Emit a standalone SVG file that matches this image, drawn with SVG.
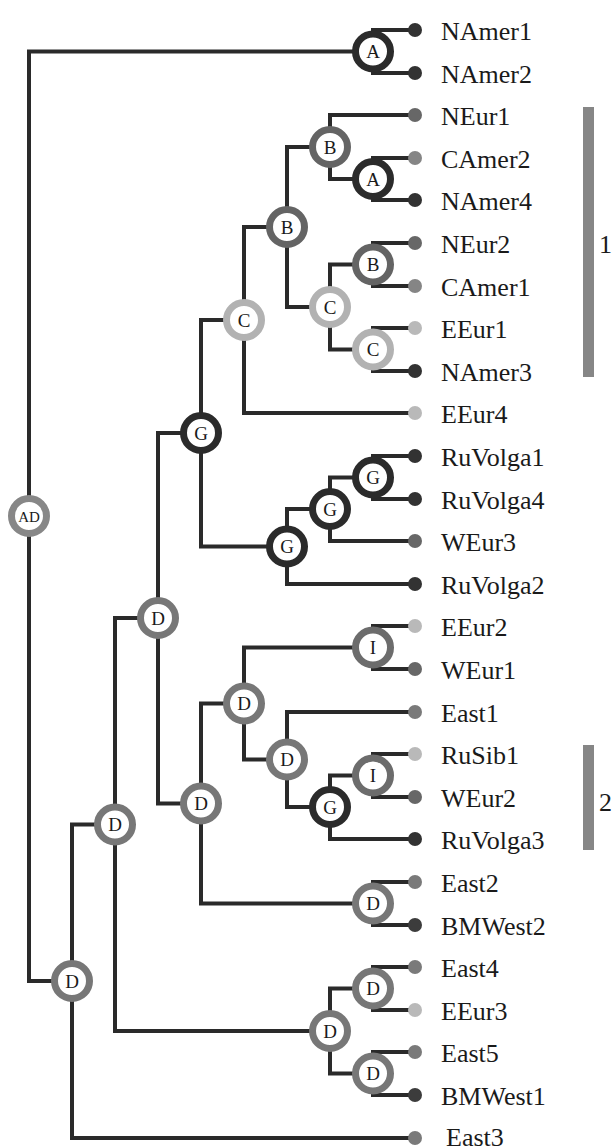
<svg xmlns="http://www.w3.org/2000/svg" width="614" height="1148" viewBox="0 0 614 1148">
  <style>
    .edge { fill: none; stroke: #2a2a2a; stroke-width: 4; stroke-linejoin: miter; stroke-linecap: butt; }
    .node circle { fill: #ffffff; stroke-width: 7; }
    .node text { font-family: "Liberation Serif", "Times New Roman", serif; font-size: 19px; fill: #1a1a1a; text-anchor: middle; }
    .node.ad text { font-size: 15px; }
    .rA circle, .rG circle { stroke: #2b2b2b; }
    .rB circle { stroke: #646464; }
    .rC circle { stroke: #b2b2b2; }
    .rD circle { stroke: #777777; }
    .rI circle { stroke: #6c6c6c; }
    .rAD circle { stroke: #878787; }
    .leaf text { font-family: "Liberation Serif", "Times New Roman", serif; font-size: 26px; fill: #1a1a1a; }
    .dk { fill: #323232; }
    .bm { fill: #3c3c3c; }
    .md { fill: #676767; }
    .gy { fill: #858585; }
    .ea { fill: #7a7a7a; }
    .lt { fill: #b9b9b9; }
    .bar { fill: #868686; }
    .barlabel { font-family: "Liberation Serif", "Times New Roman", serif; font-size: 26px; fill: #1a1a1a; }
  </style>

  <!-- elbow connectors: parent (x,y) -> vertical to child y -> horizontal to child x -->
  <g id="connectors" class="edge">
    <!-- root AD -->
    <path d="M29,516 V51.5 H373"/>
    <path d="M29,516 V981 H72"/>
    <!-- A1 -->
    <path d="M373,51.5 V30 H415"/>
    <path d="M373,51.5 V73 H415"/>
    <!-- D0 -->
    <path d="M72,981 V824.5 H115"/>
    <path d="M72,981 V1138 H415"/>
    <!-- D1 -->
    <path d="M115,824.5 V618 H158"/>
    <path d="M115,824.5 V1031 H330"/>
    <!-- D2 -->
    <path d="M158,618 V433 H201"/>
    <path d="M158,618 V803.5 H201"/>
    <!-- G0 -->
    <path d="M201,433 V320 H244"/>
    <path d="M201,433 V546.5 H287"/>
    <!-- C0 -->
    <path d="M244,320 V227 H287"/>
    <path d="M244,320 V413 H415"/>
    <!-- B2 -->
    <path d="M287,227 V147 H330"/>
    <path d="M287,227 V307 H330"/>
    <!-- B1 -->
    <path d="M330,147 V115 H415"/>
    <path d="M330,147 V179 H373"/>
    <!-- A2 -->
    <path d="M373,179 V158 H415"/>
    <path d="M373,179 V200 H415"/>
    <!-- C1 -->
    <path d="M330,307 V264.5 H373"/>
    <path d="M330,307 V349.5 H373"/>
    <!-- B3 -->
    <path d="M373,264.5 V243 H415"/>
    <path d="M373,264.5 V286 H415"/>
    <!-- C2 -->
    <path d="M373,349.5 V328 H415"/>
    <path d="M373,349.5 V371 H415"/>
    <!-- G1 -->
    <path d="M287,546.5 V509 H330"/>
    <path d="M287,546.5 V584 H415"/>
    <!-- G2 -->
    <path d="M330,509 V477.5 H373"/>
    <path d="M330,509 V541 H415"/>
    <!-- G3 -->
    <path d="M373,477.5 V456 H415"/>
    <path d="M373,477.5 V499 H415"/>
    <!-- D3 -->
    <path d="M201,803.5 V703.5 H244"/>
    <path d="M201,803.5 V903.5 H373"/>
    <!-- D4 -->
    <path d="M244,703.5 V647.5 H373"/>
    <path d="M244,703.5 V759.5 H287"/>
    <!-- I1 -->
    <path d="M373,647.5 V626 H415"/>
    <path d="M373,647.5 V669 H415"/>
    <!-- D5 -->
    <path d="M287,759.5 V712 H415"/>
    <path d="M287,759.5 V807 H330"/>
    <!-- G4 -->
    <path d="M330,807 V775.5 H373"/>
    <path d="M330,807 V839 H415"/>
    <!-- I2 -->
    <path d="M373,775.5 V754 H415"/>
    <path d="M373,775.5 V797 H415"/>
    <!-- D6 -->
    <path d="M373,903.5 V882 H415"/>
    <path d="M373,903.5 V925 H415"/>
    <!-- D7 -->
    <path d="M330,1031 V988.5 H373"/>
    <path d="M330,1031 V1073.5 H373"/>
    <!-- D8 -->
    <path d="M373,988.5 V967 H415"/>
    <path d="M373,988.5 V1010 H415"/>
    <!-- D9 -->
    <path d="M373,1073.5 V1052 H415"/>
    <path d="M373,1073.5 V1095 H415"/>
  </g>

  <!-- internal nodes: ring colour encodes the state letter -->
  <g id="node-AD" class="node ad rAD"><circle cx="29" cy="516" r="17.5"/><text x="29" y="521.5">AD</text></g>
  <g id="node-A1" class="node rA"><circle cx="373" cy="51.5" r="17.5"/><text x="373" y="58">A</text></g>
  <g id="node-D0" class="node rD"><circle cx="72" cy="981" r="17.5"/><text x="72" y="987.5">D</text></g>
  <g id="node-D1" class="node rD"><circle cx="115" cy="824.5" r="17.5"/><text x="115" y="831">D</text></g>
  <g id="node-D2" class="node rD"><circle cx="158" cy="618" r="17.5"/><text x="158" y="624.5">D</text></g>
  <g id="node-G0" class="node rG"><circle cx="201" cy="433" r="17.5"/><text x="201" y="439.5">G</text></g>
  <g id="node-C0" class="node rC"><circle cx="244" cy="320" r="17.5"/><text x="244" y="326.5">C</text></g>
  <g id="node-B2" class="node rB"><circle cx="287" cy="227" r="17.5"/><text x="287" y="233.5">B</text></g>
  <g id="node-B1" class="node rB"><circle cx="330" cy="147" r="17.5"/><text x="330" y="153.5">B</text></g>
  <g id="node-A2" class="node rA"><circle cx="373" cy="179" r="17.5"/><text x="373" y="185.5">A</text></g>
  <g id="node-C1" class="node rC"><circle cx="330" cy="307" r="17.5"/><text x="330" y="313.5">C</text></g>
  <g id="node-B3" class="node rB"><circle cx="373" cy="264.5" r="17.5"/><text x="373" y="271">B</text></g>
  <g id="node-C2" class="node rC"><circle cx="373" cy="349.5" r="17.5"/><text x="373" y="356">C</text></g>
  <g id="node-G1" class="node rG"><circle cx="287" cy="546.5" r="17.5"/><text x="287" y="553">G</text></g>
  <g id="node-G2" class="node rG"><circle cx="330" cy="509" r="17.5"/><text x="330" y="515.5">G</text></g>
  <g id="node-G3" class="node rG"><circle cx="373" cy="477.5" r="17.5"/><text x="373" y="484">G</text></g>
  <g id="node-D3" class="node rD"><circle cx="201" cy="803.5" r="17.5"/><text x="201" y="810">D</text></g>
  <g id="node-D4" class="node rD"><circle cx="244" cy="703.5" r="17.5"/><text x="244" y="710">D</text></g>
  <g id="node-I1" class="node rI"><circle cx="373" cy="647.5" r="17.5"/><text x="373" y="654">I</text></g>
  <g id="node-D5" class="node rD"><circle cx="287" cy="759.5" r="17.5"/><text x="287" y="766">D</text></g>
  <g id="node-G4" class="node rG"><circle cx="330" cy="807" r="17.5"/><text x="330" y="813.5">G</text></g>
  <g id="node-I2" class="node rI"><circle cx="373" cy="775.5" r="17.5"/><text x="373" y="782">I</text></g>
  <g id="node-D6" class="node rD"><circle cx="373" cy="903.5" r="17.5"/><text x="373" y="910">D</text></g>
  <g id="node-D7" class="node rD"><circle cx="330" cy="1031" r="17.5"/><text x="330" y="1037.5">D</text></g>
  <g id="node-D8" class="node rD"><circle cx="373" cy="988.5" r="17.5"/><text x="373" y="995">D</text></g>
  <g id="node-D9" class="node rD"><circle cx="373" cy="1073.5" r="17.5"/><text x="373" y="1080">D</text></g>

  <!-- leaves: coloured tip dot plus sample name -->
  <g id="leaf-NAmer1" class="leaf"><circle class="dk" cx="415" cy="30" r="7"/><text x="441" y="40">NAmer1</text></g>
  <g id="leaf-NAmer2" class="leaf"><circle class="dk" cx="415" cy="73" r="7"/><text x="441" y="83">NAmer2</text></g>
  <g id="leaf-NEur1" class="leaf"><circle class="md" cx="415" cy="115" r="7"/><text x="441" y="125">NEur1</text></g>
  <g id="leaf-CAmer2" class="leaf"><circle class="gy" cx="415" cy="158" r="7"/><text x="441" y="168">CAmer2</text></g>
  <g id="leaf-NAmer4" class="leaf"><circle class="dk" cx="415" cy="200" r="7"/><text x="441" y="210">NAmer4</text></g>
  <g id="leaf-NEur2" class="leaf"><circle class="md" cx="415" cy="243" r="7"/><text x="441" y="253">NEur2</text></g>
  <g id="leaf-CAmer1" class="leaf"><circle class="gy" cx="415" cy="286" r="7"/><text x="441" y="296">CAmer1</text></g>
  <g id="leaf-EEur1" class="leaf"><circle class="lt" cx="415" cy="328" r="7"/><text x="441" y="338">EEur1</text></g>
  <g id="leaf-NAmer3" class="leaf"><circle class="dk" cx="415" cy="371" r="7"/><text x="441" y="381">NAmer3</text></g>
  <g id="leaf-EEur4" class="leaf"><circle class="lt" cx="415" cy="413" r="7"/><text x="441" y="423">EEur4</text></g>
  <g id="leaf-RuVolga1" class="leaf"><circle class="dk" cx="415" cy="456" r="7"/><text x="441" y="466">RuVolga1</text></g>
  <g id="leaf-RuVolga4" class="leaf"><circle class="dk" cx="415" cy="499" r="7"/><text x="441" y="509">RuVolga4</text></g>
  <g id="leaf-WEur3" class="leaf"><circle class="md" cx="415" cy="541" r="7"/><text x="441" y="551">WEur3</text></g>
  <g id="leaf-RuVolga2" class="leaf"><circle class="dk" cx="415" cy="584" r="7"/><text x="441" y="594">RuVolga2</text></g>
  <g id="leaf-EEur2" class="leaf"><circle class="lt" cx="415" cy="626" r="7"/><text x="441" y="636">EEur2</text></g>
  <g id="leaf-WEur1" class="leaf"><circle class="md" cx="415" cy="669" r="7"/><text x="441" y="679">WEur1</text></g>
  <g id="leaf-East1" class="leaf"><circle class="ea" cx="415" cy="712" r="7"/><text x="441" y="722">East1</text></g>
  <g id="leaf-RuSib1" class="leaf"><circle class="lt" cx="415" cy="754" r="7"/><text x="441" y="764">RuSib1</text></g>
  <g id="leaf-WEur2" class="leaf"><circle class="md" cx="415" cy="797" r="7"/><text x="441" y="807">WEur2</text></g>
  <g id="leaf-RuVolga3" class="leaf"><circle class="dk" cx="415" cy="839" r="7"/><text x="441" y="849">RuVolga3</text></g>
  <g id="leaf-East2" class="leaf"><circle class="ea" cx="415" cy="882" r="7"/><text x="441" y="892">East2</text></g>
  <g id="leaf-BMWest2" class="leaf"><circle class="bm" cx="415" cy="925" r="7"/><text x="441" y="935">BMWest2</text></g>
  <g id="leaf-East4" class="leaf"><circle class="ea" cx="415" cy="967" r="7"/><text x="441" y="977">East4</text></g>
  <g id="leaf-EEur3" class="leaf"><circle class="lt" cx="415" cy="1010" r="7"/><text x="441" y="1020">EEur3</text></g>
  <g id="leaf-East5" class="leaf"><circle class="ea" cx="415" cy="1052" r="7"/><text x="441" y="1062">East5</text></g>
  <g id="leaf-BMWest1" class="leaf"><circle class="bm" cx="415" cy="1095" r="7"/><text x="441" y="1105">BMWest1</text></g>
  <g id="leaf-East3" class="leaf"><circle class="ea" cx="415" cy="1138" r="7"/><text x="446" y="1146">East3</text></g>

  <!-- clade brackets -->
  <g id="clade-1">
    <rect class="bar" x="583" y="107" width="11" height="270"/>
    <text class="barlabel" x="599" y="253">1</text>
  </g>
  <g id="clade-2">
    <rect class="bar" x="583" y="745" width="11" height="105"/>
    <text class="barlabel" x="599" y="811">2</text>
  </g>
</svg>
